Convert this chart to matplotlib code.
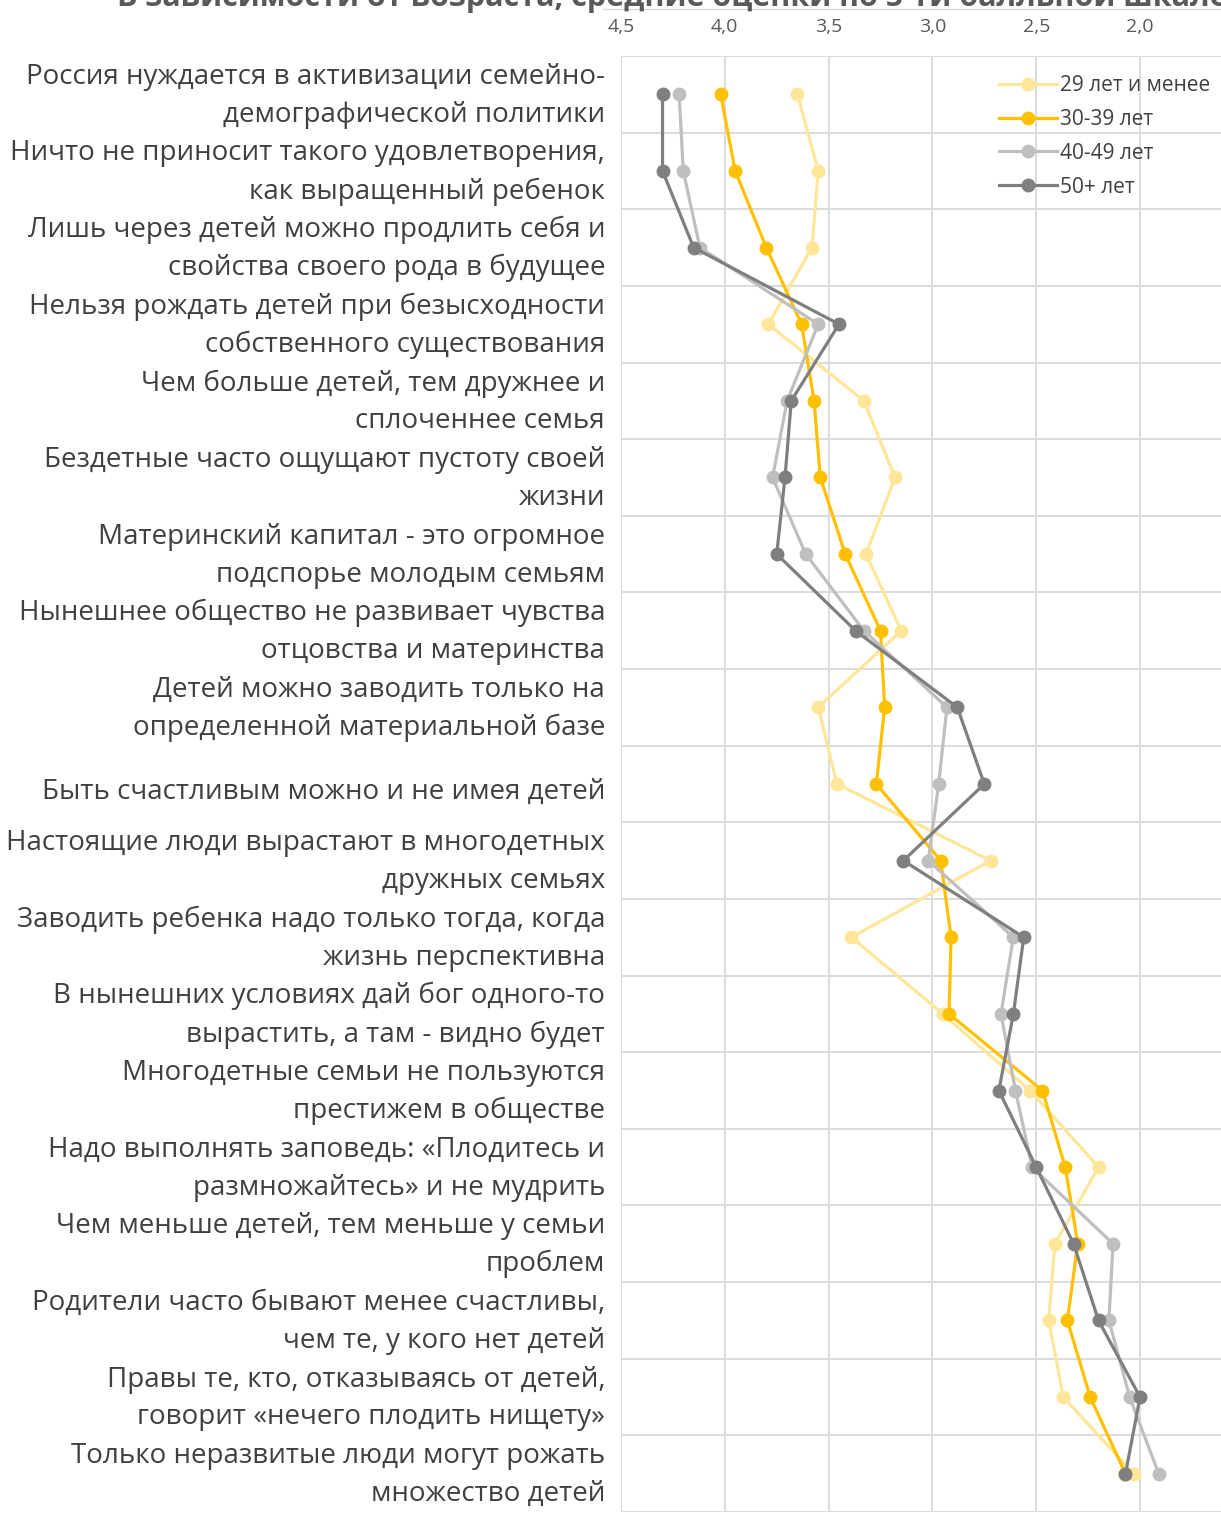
import numpy as np
import matplotlib.pyplot as plt
from matplotlib.transforms import ScaledTranslation

plt.rcParams['font.family'] = ['Open Sans', 'DejaVu Sans']

statements = [
    "Россия нуждается в активизации семейно-\nдемографической политики",
    "Ничто не приносит такого удовлетворения,\nкак выращенный ребенок",
    "Лишь через детей можно продлить себя и\nсвойства своего рода в будущее",
    "Нельзя рождать детей при безысходности\nсобственного существования",
    "Чем больше детей, тем дружнее и\nсплоченнее семья",
    "Бездетные часто ощущают пустоту своей\nжизни",
    "Материнский капитал - это огромное\nподспорье молодым семьям",
    "Нынешнее общество не развивает чувства\nотцовства и материнства",
    "Детей можно заводить только на\nопределенной материальной базе",
    "Быть счастливым можно и не имея детей",
    "Настоящие люди вырастают в многодетных\nдружных семьях",
    "Заводить ребенка надо только тогда, когда\nжизнь перспективна",
    "В нынешних условиях дай бог одного-то\nвырастить, а там - видно будет",
    "Многодетные семьи не пользуются\nпрестижем в обществе",
    "Надо выполнять заповедь: «Плодитесь и\nразмножайтесь» и не мудрить",
    "Чем меньше детей, тем меньше у семьи\nпроблем",
    "Родители часто бывают менее счастливы,\nчем те, у кого нет детей",
    "Правы те, кто, отказываясь от детей,\nговорит «нечего плодить нищету»",
    "Только неразвитые люди могут рожать\nмножество детей",
]

age_groups = ["29 лет и менее", "30-39 лет", "40-49 лет", "50+ лет"]

age_29 = [3.65, 3.55, 3.58, 3.79, 3.33, 3.18, 3.32, 3.15, 3.55, 3.46,
          2.72, 3.39, 2.95, 2.53, 2.20, 2.41, 2.44, 2.37, 2.03]
age_30_39 = [4.02, 3.95, 3.80, 3.63, 3.57, 3.54, 3.42, 3.25, 3.23, 3.27,
             2.96, 2.91, 2.92, 2.47, 2.36, 2.30, 2.35, 2.24, 2.07]
age_40_49 = [4.22, 4.20, 4.12, 3.55, 3.70, 3.77, 3.61, 3.33, 2.93, 2.97,
             3.02, 2.61, 2.67, 2.60, 2.52, 2.13, 2.15, 2.05, 1.91]
age_50 = [4.30, 4.30, 4.15, 3.45, 3.68, 3.71, 3.75, 3.37, 2.88, 2.75,
          3.14, 2.56, 2.61, 2.68, 2.50, 2.32, 2.20, 2.00, 2.07]

x_ticks = [4.5, 4.0, 3.5, 3.0, 2.5, 2.0]
colors = ['#FFE699', '#FFC000', '#BFBFBF', '#7F7F7F']

W, H = 1221, 1519
fig = plt.figure(figsize=(W / 100, H / 100), dpi=100)
ax = fig.add_axes([621 / W, 1 - 1512 / H, 1 - 621 / W, (1512 - 56) / H])

pos = np.arange(len(statements))
for vals, name, c in zip([age_29, age_30_39, age_40_49, age_50], age_groups, colors):
    ax.plot(vals, pos, color=c, lw=2.3, marker='o', ms=9, label=name, zorder=3)

ax.set_xlim(4.5, 1.61)
ax.set_ylim(len(statements) - 0.5, -0.5)

# grid: vertical at value ticks, horizontal at category boundaries
ax.set_xticks(x_ticks)
ax.set_xticklabels([f"{t:.1f}".replace('.', ',') for t in x_ticks])
ax.xaxis.tick_top()
ax.tick_params(axis='x', length=0, pad=14.5, labelsize=14, labelcolor='#595959')
ax.set_yticks(pos)
ax.set_yticklabels(statements)
ax.tick_params(axis='y', length=0, pad=11.5, labelsize=20, labelcolor='#404040')
for lbl in ax.get_yticklabels():
    lbl.set_linespacing(1.47)
    if '\n' in lbl.get_text():
        lbl.set_verticalalignment('center')
        shift = -1.5
    else:
        shift = -4
    lbl.set_transform(lbl.get_transform() + ScaledTranslation(0, shift / 100, fig.dpi_scale_trans))

for b in np.arange(-0.5, len(statements), 1.0):
    ax.axhline(b, color='#D9D9D9', lw=1.3, zorder=1)
for t in x_ticks:
    ax.axvline(t, color='#D9D9D9', lw=1.3, zorder=1)
for s in ax.spines.values():
    s.set_visible(False)

leg = ax.legend(loc='upper left', bbox_to_anchor=(0.63, 0.987), frameon=False,
                fontsize=15, handlelength=2.8, handletextpad=0.15,
                labelspacing=0.62, borderpad=0, borderaxespad=0)
for t in leg.get_texts():
    t.set_color('#404040')

fig.text(117 / W, 1 - 6 / H,
         "В зависимости от возраста, средние оценки по 5-ти балльной шкале",
         fontsize=22, fontweight='bold', color='#595959', va='baseline')
fig.add_artist(plt.Line2D([603 / W, 1], [1 - 9 / H, 1 - 9 / H],
                          transform=fig.transFigure, color='#D9D9D9', lw=1))

fig.savefig('out.png', dpi=100)
